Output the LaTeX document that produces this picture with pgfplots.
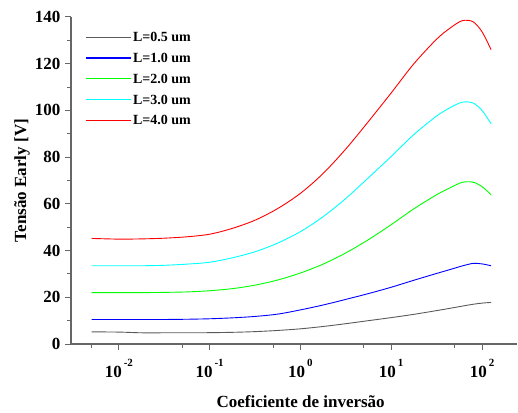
\documentclass[border=0pt]{standalone}
\usepackage{fontspec}
\setmainfont{Liberation Serif}
\usepackage{pgfplots}
\pgfplotsset{compat=1.18}
\definecolor{cB}{RGB}{0,0,255}
\definecolor{cG}{RGB}{0,255,0}
\definecolor{cC}{RGB}{0,255,255}
\definecolor{cR}{RGB}{255,0,0}
\definecolor{cK}{RGB}{90,90,90}
\newcommand{\xl}[1]{\textbf{10}\hspace{2pt}\raisebox{11pt}{\fontsize{11}{11}\selectfont\textbf{#1}}}
\begin{document}
\begin{tikzpicture}
\begin{semilogxaxis}[
  scale only axis,
  width=446pt, height=327pt,
  xmin=0.00297, xmax=243,
  ymin=0, ymax=140,
  axis lines=left,
  axis line style={-, draw=black!60, line width=1.1pt},
  tick style={draw=black!60, line width=1pt},
  tick align=outside,
  major tick length=6pt, minor tick length=4pt,
  xtick={0.01,0.1,1,10,100},
  xticklabels={\xl{-2},\xl{-1},\xl{0},\xl{1},\xl{2}},
  minor xtick={0.005,0.05,0.5,5,50},
  ytick={0,20,...,140},
  minor y tick num=1,
  /pgf/number format/assume math mode=true,
  yticklabel style={font=\fontsize{17}{17}\selectfont\bfseries, xshift=-1pt},
  xticklabel style={font=\fontsize{17}{17}\selectfont\bfseries, yshift=-6pt},
  xlabel={Coeficiente de inversão},
  ylabel={Tensão Early [V]},
  xlabel style={font=\fontsize{17}{17}\selectfont\bfseries, at={(axis description cs:0.515,-0.193)}, anchor=base},
  ylabel style={font=\fontsize{17}{17}\selectfont\bfseries, at={(axis description cs:-0.11,0.5)}, anchor=center},
  legend style={draw=none, fill=none, font=\fontsize{14}{14}\selectfont\bfseries,
    at={(axis description cs:0.031,0.96)}, anchor=north west, row sep=6pt, inner sep=0pt},
  legend cell align=left,
  legend image code/.code={\draw[#1, line width=1.1pt] (0pt,0.5pt) -- (45pt,0.5pt);},
  every axis plot/.append style={line width=0.9pt, smooth},
]
\addplot[cK] coordinates {
(0.005012,5.2) (0.01,5.1) (0.01778,4.8) (0.03162,4.8) (0.05623,4.8) (0.1,4.85) (0.1778,5.0) (0.3162,5.3) (0.5623,5.8) (1,6.5) (1.778,7.5) (3.162,8.7) (5.623,10.0) (10,11.3) (17.78,12.7) (31.62,14.3) (44.67,15.3) (60.26,16.2) (79.43,17.0) (100,17.5) (125.9,17.8)};
\addlegendentry{L=0.5 um}
\addplot[cB] coordinates {
(0.005012,10.5) (0.01,10.5) (0.01778,10.5) (0.03162,10.5) (0.05623,10.6) (0.1,10.8) (0.1778,11.2) (0.3162,11.8) (0.5623,12.8) (1,14.6) (1.778,16.7) (3.162,19.1) (5.623,21.6) (10,24.3) (17.78,27.3) (31.62,30.2) (44.67,31.9) (60.26,33.4) (79.43,34.5) (100,34.3) (125.9,33.5)};
\addlegendentry{L=1.0 um}
\addplot[cG] coordinates {
(0.005012,22.0) (0.01,22.0) (0.01778,22.0) (0.03162,22.1) (0.05623,22.3) (0.1,22.8) (0.1778,23.7) (0.3162,25.2) (0.5623,27.4) (1,30.4) (1.778,34.2) (3.162,39.0) (5.623,44.7) (10,51.1) (17.78,57.9) (31.62,63.9) (44.67,66.9) (60.26,69.2) (79.43,69.3) (100,67.4) (125.9,63.9)};
\addlegendentry{L=2.0 um}
\addplot[cC] coordinates {
(0.005012,33.5) (0.01,33.5) (0.01778,33.5) (0.03162,33.7) (0.05623,34.2) (0.1,35.0) (0.1778,36.9) (0.3162,39.5) (0.5623,43.2) (1,48.1) (1.778,54.5) (3.162,62.3) (5.623,71.2) (10,80.3) (17.78,89.7) (31.62,97.6) (44.67,101.2) (60.26,103.5) (79.43,103.2) (100,100.0) (125.9,94.3)};
\addlegendentry{L=3.0 um}
\addplot[cR] coordinates {
(0.005012,45.2) (0.01,44.9) (0.01778,45.0) (0.03162,45.3) (0.05623,45.9) (0.1,47.0) (0.1778,49.5) (0.3162,53.0) (0.5623,58.0) (1,64.5) (1.778,73.0) (3.162,83.5) (5.623,95.3) (10,107.5) (17.78,120.0) (31.62,130.5) (44.67,135.3) (60.26,138.4) (79.43,138.0) (100,133.7) (125.9,126.0)};
\addlegendentry{L=4.0 um}
\coordinate (O) at (rel axis cs:0,0);
\end{semilogxaxis}
\pgfresetboundingbox
\path (O) ++(-71pt,-68pt) rectangle ++(518pt,412pt);
\end{tikzpicture}
\end{document}
